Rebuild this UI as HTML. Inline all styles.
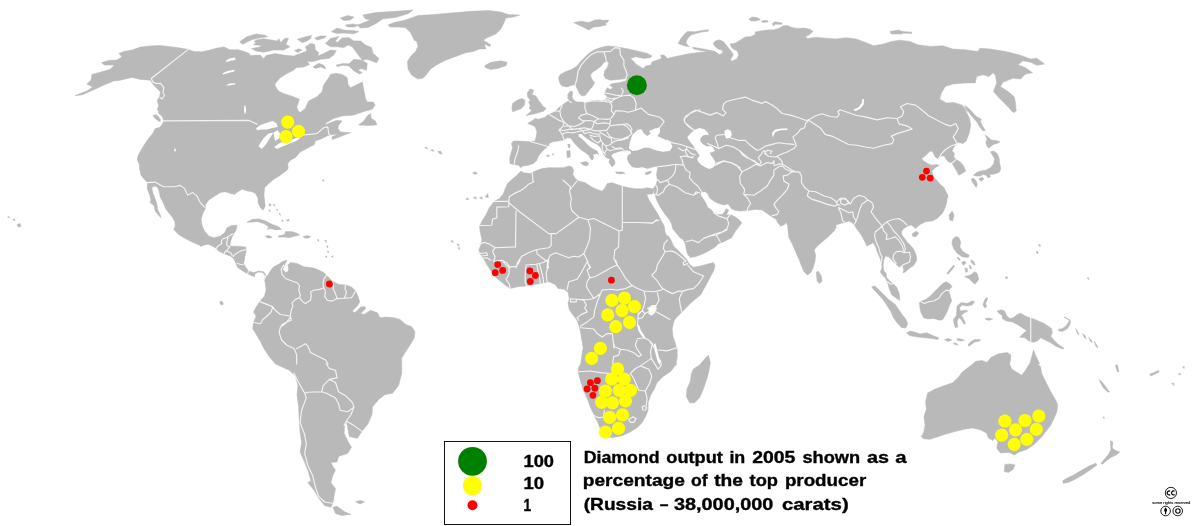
<!DOCTYPE html>
<html><head><meta charset="utf-8"><title>Diamond output 2005</title>
<style>
html,body{margin:0;padding:0;background:#fff;}
body{width:1200px;height:526px;overflow:hidden;position:relative;font-family:"Liberation Sans",sans-serif;}
svg{position:absolute;left:0;top:0;}
.legend{position:absolute;left:444.1px;top:440.6px;width:127.3px;height:84.6px;border:1.1px solid #111;box-sizing:border-box;background:#fff;}
.lbl{position:absolute;font-weight:bold;font-size:16px;color:#000;line-height:1;}
.cap{position:absolute;left:583px;top:447px;font-weight:bold;font-size:17.3px;line-height:22.5px;color:#000;white-space:nowrap;letter-spacing:0px;}
</style></head><body>
<svg width="1200" height="526" viewBox="0 0 1200 526">
<path d="M75.1,95.6 86.8,91.1 92.6,86.9 86.8,83.9 91,80.2 91.8,74.4 101.8,71.8 110.2,69.3 114.4,65.1 104.4,65.1 101.5,62.6 108.5,60.5 116.9,60.1 121.9,56.8 118.9,53.4 123.6,51.4 132,50.1 140.3,47.1 150.4,45.9 160.4,45.4 170.5,46.7 180.5,48.1 187.2,49.2 193.9,51.4 202.3,51.8 210.6,49.7 217.3,48.1 223.2,47.1 227.4,48.7 223.3,47.1 230,49.8 238.4,49.8 245.1,51.8 249.3,53.5 250.1,55.5 260.2,55.1 263.5,58.8 266,55.5 275.2,53.5 283.6,55.1 293.6,56 300.3,53.5 307,51 305.4,46.8 310.4,43.4 314.6,44.3 315.4,50.1 318.7,52.6 317.9,56 323.8,53.5 330.5,50.1 336.3,50.5 333.8,55.1 328.8,58.5 320.4,59.3 315.4,61 310.4,61.8 307,61 309.5,64.4 303.7,66.9 296.2,67.7 293.6,70.2 286.9,73.6 280.3,77.7 275.2,83.6 275.1,85.9 278.5,90.9 283.5,93.4 293.5,96.7 299.4,99.2 296.9,106.8 297.7,110.1 300.2,112.6 305.2,108.5 308.6,100.9 316.9,96.7 322,91.7 323.6,85 327,80 327.1,80.3 330.5,74.4 335.5,73.2 342.2,74.4 347.2,77.7 348,84.4 350.5,87.8 362.3,81.9 363.9,90.3 365.6,98.7 367.3,102 372.3,102 373,101.8 375.2,105.1 372.2,109.3 365.5,111 353.8,115.1 342.1,116 333.7,118.5 326.2,122.7 325.3,125.2 328.7,123.2 337,120.2 342.1,121 338.7,125.2 337.9,128.5 340.4,131.9 350.4,132.7 343.7,135.2 335.4,138.6 332,139.4 332,136.9 337.9,133.9 328.7,135.2 322,138.6 315.3,141.1 314.4,144.4 306.9,148.6 300.2,152 295.2,157.8 290.2,160.3 287.7,163.7 288.2,168 287.3,170 280.6,175 273.9,179.2 268.9,183.4 264.7,187.6 263.9,195.1 264.7,201 265.2,206 263.1,210.2 260.5,207.7 258,202.6 258,198.5 255.5,193.4 252.2,191.8 247.2,190.9 242.1,189.2 237.9,191.8 234.6,194.3 230.4,193.4 225.4,191.8 220.4,192.6 213.7,196.8 208.7,200.1 205.3,205.1 205.3,208.5 202.8,213.5 201.1,219.4 202,225.2 204.5,231.1 208.7,236.1 213.7,237.8 220.4,236.1 224.6,232.8 227.1,227.7 231.3,225.6 237.1,225.2 236.3,229.4 233.8,233.6 232.1,236.9 230.4,242 229.6,246.2 237.1,246.2 245.5,247 246.3,250.3 244.6,258 244.9,258.1 243.5,263.4 246,267.6 248.5,271 253.6,272.6 258.6,271 263.6,271.8 266.1,275.1 266.9,276.8 264.4,279.3 265.3,276 262.8,272.6 258.6,272.1 255.2,273.5 254.4,276.8 250.2,275.1 246.9,273.5 242.7,271 237.7,267.6 236,263.4 233.5,258.4 230.1,255.9 225.1,254.2 218.4,250.9 215.1,247.5 208.4,244.2 200,245.9 202,246.2 193.6,242.8 185.2,238.6 178.5,234.4 173.8,229.4 175.2,226.1 174.9,221.9 172.7,217.7 169.3,213.5 166,209.3 163.5,203.5 160.1,196.8 159.3,191.8 157.6,187.6 155.1,185.9 151.8,187.6 152.6,191.8 154.3,196.8 156.8,203.5 157.6,209.3 160.1,214.4 161,217.7 158.5,215.2 155.1,211 154.3,206 150.1,202.6 150.9,200.1 149.7,195.1 147.2,188.4 147.6,182.6 144.2,179.2 140.9,175 140,170 139.8,170.3 139.3,164.4 137.2,159.4 138.2,155.2 141,150.2 144.4,144.4 148.5,138.5 152.7,133.5 155.2,128.5 159.4,127.6 161.9,125.1 163.8,120.9 162.3,116.7 158.4,113.1 158.6,110 157.1,110.3 158.7,105.3 157.1,100.3 159.6,96.9 160.4,91.9 157.1,88.6 153.7,85.2 150.4,80.2 140.3,79.4 132,77.4 120.3,80.2 113.6,81 103.5,85.2 93.5,89.9 81.8,94.9ZM264.4,279.3 266.9,276.8 270.3,271 273.6,266.8 278.7,264.3 282,261.8 287,260.1 284.5,265.1 282.8,269.3 285.4,272.6 287.9,271.8 288.7,268.5 287.9,265.1 290.4,262.6 297.1,263.4 303.8,266.8 313.8,268.1 318.8,270.1 323.8,272.6 326.4,275.1 332.2,281 338.9,284.4 345.6,284.9 351.5,286.9 355.6,291 358.2,296.9 359.8,301.9 357.3,306.1 352.3,311.1 354.8,312.8 360.7,306.9 364.9,306.6 365.7,308.6 360.7,313.6 364,314.5 370.7,310.3 377.4,312.8 379.9,317.8 385.8,317 394.1,317.8 400,319.5 405.4,324.3 411.7,326.8 415,331.8 414.2,338.1 410.5,344.3 405.4,351.9 401.7,358.2 401.7,373.2 398.6,385.6 392.5,393.3 384.8,394.8 378.6,399.4 372.5,407.1 371.9,414.8 367.8,424.1 361.7,431.8 357.1,438.5 349.4,436.4 346.3,421 344.7,425.6 344.1,433.3 347.8,441 351.5,447.2 347.8,453.3 338.6,456.4 337,461.9 330.9,462.6 332.4,465.6 335.5,470.3 333,474.9 330.9,482.6 335.5,488.7 334,496.4 333,502.6 330.9,507.2 324.7,505.7 318.6,498 314,490.3 307.8,482.6 310.9,481 308.4,471.8 304.7,462.6 300.1,451.8 301.6,442.5 300.1,431.8 299.2,419.4 298.6,407.1 297,394.8 297.9,385.6 295.5,376.3 289.3,370.2 275.5,364 269,356.3 264,348.7 260.3,341.2 256.5,334.9 252.7,328.7 253.6,322 256.1,316.2 253.6,312 256.1,306.9 260.3,301.1 264.4,296.1 266.1,290.2 265.3,283.5ZM333,507.2 337,506.3 344.7,511.8 350.9,514.3 341.7,515.5 335.5,513.4ZM355.5,501.7 360.1,500.4 364.8,501.7 360.1,504.1ZM239.7,41.8 246.8,36.7 256,33.9 264.4,35.1 267.7,36.7 259.3,38.1 251.8,39.7 242.6,44.3ZM256,40.1 263.5,38.7 271.9,40.1 276.9,40.9 278.9,38.7 280.6,42.6 285.3,38.1 288.6,38.4 285.6,44.3 290,46.8 283.6,50.1 273.6,50.1 263.8,52.3 256,51 251.5,48.5 258.8,47.3 261.8,45.4 253.5,44.8 256,42.6 254.3,41.4ZM297.3,39.2 305.4,36.7 311.7,35.4 310.4,38.7 305.4,41.8 302,42.6ZM314.6,38.1 320.4,35.9 326.3,35.9 324.6,38.1 317.1,40.1ZM294.5,50.5 298.7,48.8 302,50.1 297.8,52.6ZM325.4,43.4 330.5,38.4 338.8,36.4 335.5,40.9 337.2,42.6 342.2,38.1 348.9,37.6 353.9,40.9 360.6,40.9 365.6,45.1 371.5,47.6 373.1,53.5 379,58.5 376.5,62.7 367.3,59.3 362.3,60.2 357.2,53.5 352.2,46.8 348,45.1 343.8,47.6 337.2,46.8 330.5,46.8ZM336.3,64.9 343,63.5 348.9,63.8 353.9,59.3 362.3,60.2 367.3,63.5 366.4,70.2 361.4,68.5 358.1,70.2 362.3,72.7 359.7,73.9 353.9,71 348.9,66 343,65.2 337.2,66.5ZM312.9,66.9 318.7,63.2 323.8,65.2 325.8,68.9 320.4,66.9 315.4,68.5ZM331.3,31.7 337.2,28 343.8,30 352.2,30.4 358.9,31.4 353.9,33.7 343.8,33.1 337.2,33.4ZM362.8,15.1 375.3,12.6 395.4,11.3 413,10 408,13.8 395.4,17.6 382.9,18.8 375.3,23.9 367.8,27.6 360.3,28.1 357.7,25.1 364,22.6 370.3,20.1 365.3,18.8ZM340.2,18.1 347.7,15.6 354,17.1 350.2,20.1 343.9,20.6ZM345.2,25.1 352.7,23.9 359,25.1 354,27.1 347.7,27.1ZM387.9,25.1 394.2,22.6 405.4,20.1 418,15.6 433.1,14.6 450.6,13.1 470.7,11.3 488.3,10.5 500.9,12.1 508.4,14.6 519.7,15.1 513.4,17.1 505.9,18.1 503.4,23.9 500.9,28.9 495.8,33.9 487,37.7 483.3,40.2 490.8,44.7 489.6,46.4 484.5,43.9 485.8,49 479.5,49 473.2,51.5 465.7,52.7 455.7,56.5 445.6,60.3 438.1,64 430.6,69 426.8,74.1 423,78.3 418,79.1 411.7,75.3 408,69 407.5,61.5 410.5,56.5 415.5,51.5 418,46.4 416.7,41.4 414.2,40.2 410.5,32.6 405.4,27.6 397.9,27.1 390.4,27.1ZM484.5,65.8 490.8,62.3 500.9,60.8 507.1,62.3 505.9,65.8 498.3,68.3 490.8,69.5 485.8,67.8ZM573.7,22.6 581.2,21.3 588.7,22.6 595,20.1 600,19.6 605,21.3 606.3,25.1 600,26.4 593.7,27.1 588.7,30.1 585,28.1 578.7,25.1ZM358.5,124.9 363.8,121 367.2,116 370.5,113.5 371.3,118.5 375.5,121 376.9,124.9 367.2,125.5ZM152.9,115.6 156.1,114.6 158.6,116.7 160.6,119.7 159.9,121.8 157.4,120.3 154.6,118.1ZM246.8,222.2 252.2,219.4 258.9,218.9 265.6,221 272.3,224.4 279,226.9 281.5,229.4 275.6,229.9 270.6,228.6 267.2,229.4 268.9,226.9 263.9,223.6 257.2,221.5 250.5,222.2ZM278.1,236.1 284.8,234.4 285.6,231.6 291.5,231.6 295.7,232.8 299.9,234.9 294.9,236.1 289,237.8 284,236.9 279,237.3ZM265.2,236.1 268.9,235.6 272.3,237.3 268.1,238.3ZM303.2,236.6 307.4,235.6 310.8,236.6 308.2,238.3 304.1,237.8ZM521,171.1 523.5,172.8 530.2,173.6 535.2,171.1 541.9,168.6 548.6,167.7 556.9,167.7 563.6,167.7 568.7,166.1 572,166.9 573.7,170.3 572.8,174.4 575.4,178.6 578.7,181.1 585.4,182.8 590.4,186.2 595.4,188.7 602.1,191.2 605.5,187 607.2,183.6 612.2,182.8 617.2,184.5 622.2,186.2 628.9,187.8 635.6,188.7 642.3,188.7 647.3,187.8 653.2,188.7 653.4,189.3 652.6,193.8 646.7,194.4 649.2,200.2 653.4,206.9 657.6,213.6 660.9,220.3 664.3,226.2 665.1,232 667.6,238 667.6,235 671,240 673.5,245.9 677.7,250.1 681.8,254.3 686,258.5 688.5,262.6 690.2,265.1 693.6,267.2 700.3,266 706.9,264.3 713.6,262.6 715,266 713.6,271 710.3,276.9 706.9,283.6 703.6,289.4 701.1,294.4 696.1,298.6 690.2,303.6 685.2,308.7 680.2,313.7 676,318 674,321.1 672.2,328.7 672.9,336.2 675.5,343.7 677.2,350 677.2,357.5 676,364.1 677,363.9 675.7,365.1 670.7,371.4 663.2,376.4 656.9,382.7 654.4,389 650.6,395.3 648.1,402.8 648.1,410.3 645.6,416.6 641.9,422.9 636.8,427.9 630.6,431.7 623,435.4 613,437.5 605.4,436.7 601.7,432.9 597.7,422 594.9,417 592.7,412 590.2,406.9 588.5,401.9 586,396.1 583.2,389.4 581,382.7 579.3,376.8 578.2,371.8 578.5,367.6 580.6,364.1 581.8,355 583.1,347.5 581.8,340 580.6,332.4 579.3,326.2 576.8,319.9 573,314.9 569.3,309.8 568,303.6 569.3,298.5 568,292.3 564.2,289.2 558,288.5 555.4,284.7 549.2,281.7 540.4,283.5 532.9,284.7 525.3,286 517.8,286.7 510.3,288.5 506.5,286 500.2,281 493.9,275.9 490.2,269.7 486.4,263.9 484.5,260 480.8,255 478.8,250 480.8,245 482,240 480.3,232.4 479.5,226.2 482,221.1 485.8,214.9 489.6,207.3 494.6,201 500.9,197.8 500,198 503.4,193.7 505.1,188.7 507.6,183.6 511.8,179.5 516.8,175.3ZM708.4,355.1 710.4,362.6 708.9,371.4 706.4,380.2 703.4,389 699.6,397.8 694.6,402.8 689.6,402.8 686.3,396.5 687,389 690.3,381.5 691.3,373.9 693.3,368.9 699.6,365.1 704.6,358.9ZM690,53.4 682.5,55.1 674.1,56.8 667.4,58.5 664.1,55.1 660.7,55.1 661.5,58.5 657.4,60.1 652.3,61.8 650.7,65.1 645.6,66 643.1,68.5 637.3,65.1 633.9,61.8 630.6,58.5 635.6,56.8 644,58.5 650.7,57.6 652,55.9 647.3,53.4 637.3,50.9 627.2,48.7 620.5,47.6 613.8,46.4 607.2,45.9 600.5,47.6 593.8,50.1 588.7,53.4 584.6,57.6 580.4,61.8 577,66 572,69.3 565.3,71.8 560.3,74.4 558.6,77.7 559.5,82.7 562,86.1 567,86.9 572,85.2 575.4,84.4 577,88.6 579.5,93.6 582.1,96.1 585.4,95.3 588.7,91.1 592.1,86.9 594.6,82.7 592.1,79.4 590.4,75.2 592.9,71.8 597.1,69.3 601.3,66 603.8,62.6 607.2,61 608.8,63.5 607.2,67.7 604.6,71 603.8,75.2 605.5,78.5 610.5,80.2 618.9,79.4 627.2,78.5 625.6,81 618.9,82.7 612.2,83.6 609.7,85.2 613,87.7 610.5,89.4 607.2,87.7 605.5,91.1 604.6,94.4 607.2,96.1 605.5,100.3 601.3,101.1 597.1,100.3 590.4,101.1 585.4,102.8 581.2,102 577,102 573.7,100.3 572,96.9 572.8,91.9 570.3,91.1 567.8,94.4 567.8,98.6 569.5,100.3 565.3,102.8 562,105.3 558.6,107.8 555.3,111.2 550.3,113.7 546.9,115.4 544.4,118 544.4,117.5 538.5,119.2 535.2,118.4 531.8,120.9 527.7,123.4 531.8,125.1 535.2,126.7 536.9,131.8 536,137.6 534.9,141 526.8,141.5 518.5,141 513.4,141 511.4,143.5 512.6,147.7 510.9,153.5 509.7,158.5 510.1,163.6 513.4,164.4 518.5,165.2 521,167.7 522.6,166.1 528.5,165.2 533.5,163.6 536.9,160.2 538.5,156 541.9,151.8 545.2,148.5 548.6,146 549.4,143.5 552.8,141.8 558.6,141 563.6,140.1 567.8,137.6 571.2,138.5 573.7,142.6 577,146 580.4,149.3 585.4,152.7 588.7,155.2 590.4,158.5 592.1,160.2 593.8,157.7 592.9,154.4 597.1,153.5 598.8,154.4 597.1,151 592.1,148.5 588.7,146 585.4,142.6 582.1,139.3 578.7,136.8 577.9,134.3 581.2,133.4 583.7,135.9 587.1,138.5 592.1,141.8 597.1,144.3 600.5,147.7 602.1,151 603.8,154.4 605.5,156.9 607.2,158 610.1,159.3 608.8,161.8 610.1,164.3 612.2,166.8 613.8,165.6 615.1,163.1 614.3,160.1 612.6,158 611.3,155.9 612.2,154.3 614.3,153 617.6,151.9 621,150.9 623.9,151 627.2,150.2 630.6,151 631.4,153.5 628.1,155.2 627.2,158.5 628.9,162.7 632.3,166.9 637.3,167.7 642.3,166.9 647.3,168.6 653.2,166.9 657.4,166.1 657.4,169.4 656.5,174.4 657.4,180.3 655.7,185.3 653.2,188.7 653.4,189.3 654.2,193.8 655.1,194.9 656.7,200.2 660.1,206.9 665.1,214.4 669.3,219.5 671.8,224.5 672.6,228.7 676,232.8 680.2,238 682.7,239.2 685.2,243.4 686,248.4 687.7,254.3 690.2,257.6 695.2,256.8 701.9,254.3 708.6,250.9 714.5,247.6 718.7,243.4 723.7,241.7 728.7,239.2 731.2,238 732.9,235.4 735.4,231.2 738.7,227 741.8,222.8 739.6,220.3 735.4,216.9 730.4,214.4 726.2,215.3 728.7,210.3 726.2,208.6 724.5,211.9 722,214.4 717,214.4 713.6,212.8 711.1,209.4 707.8,207.7 706.1,203.6 703.6,199.4 701.1,196 700.3,192.7 704.4,191.5 707.8,193.5 709.5,197.7 713.6,201 718.7,203.6 723.7,204.9 727.9,203.9 730.4,206.9 731.2,208.6 735.4,210.6 740.4,211.1 747.1,210.6 755.5,209.4 762.2,209.9 767.2,213.6 772.2,216.9 776.4,219.5 777.2,222 780.6,226.2 784.8,224.5 785.6,222 787.6,225.3 788.1,232 789,238 789.3,238 792.3,244.2 795.6,251.8 799,259.3 801.5,266 804,271.8 807.4,274.9 810.7,272.7 813.2,267.7 814.9,261.8 815.7,255.1 814.1,250.1 817.4,245.9 822.4,241.7 827.4,237.5 832.5,232.5 835,230 833.5,231 836,227.7 836,225.1 840.2,223.5 845.2,222.6 848.5,221 851.9,222.6 854.4,225.1 856.9,229.3 860.3,233.5 862.8,237.7 865.3,242.7 866.9,246.1 870.3,244.4 872.8,242.7 875.3,246.1 877,251.1 879.5,256.9 881.2,262 882,267.8 880.3,272 882.8,275.4 885.4,278 887.9,283.5 889.1,288.5 891.6,294.8 896.7,298.5 899.9,300.3 899.2,293.5 896.7,287.2 893.4,284 889.9,281 886.9,277.9 886.2,273.7 883.7,270.3 883.2,265.3 883.7,260.3 885.4,256.1 888.7,256.9 892.1,260.3 896.2,264.5 899.6,267.3 902.9,266.2 903.8,270.3 902.9,272.8 905.4,272 908.8,268.7 913.8,265.3 916.8,260.3 916.3,255.3 913.8,249.4 910.5,245.2 907.1,241.9 904.6,238.5 902.1,235.2 901.3,231.8 903.8,228.5 907.9,226 911.3,225.1 913.8,226.8 915.5,228.8 917.2,226.8 920.5,224.3 925.5,221.8 932.2,221 937.2,218.5 942.3,213.4 944.8,208.4 946.4,203.4 947.3,198.4 947.3,194.2 944.8,190 947.8,198 947.8,195.4 945.3,192 944.4,187.8 940.3,184.5 936.9,180.3 933.6,176.9 931.9,171.1 935.2,167.7 939.4,165.2 936.1,164.4 931.9,165.2 927.7,163.6 922.7,160.2 921.8,158.5 926,155.2 930.2,151 932.7,151.8 935.2,156.9 937.7,158.5 941.1,156 944.4,156 946.1,159.4 948.6,161.9 952,162.7 953.6,166.1 956.2,170.3 958.7,175.3 962,173.6 965.7,171.1 963.7,166.1 960.3,161.9 956.2,159.4 953.6,156.9 954.5,153.5 952,151 953.6,147.7 956.2,144.3 958.7,142.6 962.8,143.5 966.2,141 967.9,136.8 969.5,131.8 970.7,125.1 969.5,118.4 967,113.3 964.5,110 967.3,111.7 962.8,105.4 962.8,105.4 954,102.4 946.4,102.9 939.7,99.2 941.4,92.9 945.2,86.6 952.7,84.1 965.3,82.9 975.3,82.9 976.6,76.6 982.9,74.8 989.1,76.6 992.9,72.8 995.4,75.3 996.7,82.9 993.4,91.6 999.2,97.9 1006.7,105.4 1013,112.2 1016,110 1015.5,102.9 1014.2,96.7 1008,91.6 1000.4,86.6 1002.9,82.3 1013,78.3 1020.5,79.1 1025.5,74.1 1032.6,72.8 1025.5,67.8 1018,64.8 1023,60.8 1030.6,62.3 1036.8,65.3 1044.4,64 1036.8,58.2 1030.6,59 1020.5,55.2 1005.4,51.5 990.4,49 979.8,48.2 977.8,51.5 965.3,49.7 952.7,49 942.7,45.7 930.1,46.4 917.6,44.7 910,41.4 900,40.2 891.2,41.4 883.7,43.9 873.7,45.7 866.1,42.7 856.1,38.9 846,37.7 836,38.9 826,38.2 815.9,37.2 807.3,38.5 805.6,36.8 809.8,34.3 813.1,31.4 809.8,29.2 803.9,28.1 797.2,28.4 792.2,27.6 787.2,25.4 783,25.9 778.8,28.4 773.8,29.7 767.1,30.1 760.4,30.9 755.1,32.1 755.4,34.3 751.2,36.4 745.4,37.1 740.3,40.1 734.5,43.5 730.3,43.8 731.1,46.8 733.6,49.3 737.3,51 738.7,54.9 736.7,58.9 732.3,61 730.3,59.9 731.6,57.7 733.3,54.4 730.3,50.2 726.9,46 723.6,41.8 719.4,39.8 715.2,41 713.2,43.5 715.2,46.8 718.6,49.3 722.3,50.2 722.8,53.2 719.4,54.4 715.2,51.8 710.2,51 700.2,52.2 693.5,53.2ZM527.2,92.8 530.2,88.9 533.8,90.3 531.8,94.4 536,96.1 538.5,100.3 541,103.6 543.6,107 546.1,108.3 543.6,111.2 538.5,112.8 531.8,114.5 526,115.4 529.3,112.8 531.8,110.3 529.3,108.7 530.2,105.3 528.5,102 530.2,100.3 527.7,96.9ZM512.6,103.6 516.8,100.3 521.8,98.6 525.1,100.3 524.3,105.3 521,108.7 516.8,110.3 512.6,111.7 511.8,107.8ZM567.8,144.3 570,144.3 570,147.7 568.3,147.7ZM566.7,151 570,150.5 570.3,156.9 567.3,157.7ZM580.4,162.7 586.2,161.5 588.7,163.2 587.1,166.1 582.9,164.9ZM615.5,171.9 622.2,171.9 625.2,173.3 620.5,173.9 616.4,173.3ZM645.3,172.8 650.7,171.1 651.5,172.3 648.2,174.4 645.6,174.4ZM546.1,155.5 549.4,154.9 548.6,156.9ZM551.9,154.4 553.6,153.8 553.3,155.2ZM890,31.4 898.8,30.1 903.8,32.1 901.3,34.1 891.2,33.9ZM600,20.6 608.8,20.1 607.5,22.6 600,23.1ZM964.8,105.4 969,108.5 975.3,115.5 980.3,120.5 977.1,116.7 981.3,119.2 980.4,121.7 982.9,126.7 985.4,130.4 982.9,130.9 979.6,126.7 976.2,120.9 972.9,116.7 975.3,120.5 970.3,114.2 965.8,108.5ZM900,31.4 911.3,32.1 912.1,33.4 900,33.1ZM912.1,233.7 916.3,231.2 918.8,232.9 915.6,236.9 912.6,236.2ZM949,214.9 952.2,211.1 954,214.9 952.7,221.1 949.7,219.9ZM952.6,239.5 955.7,236.5 958.7,237.5 960.7,242 959.9,247.1 962.4,251.1 966.2,253.6 969.2,255.1 968.2,257.4 962.7,256.9 957.7,253.8 953.7,248.8 951.9,243.8ZM946.9,273.4 950.6,268.4 953.7,265.1 954.4,266.6 951.1,270.9 948.1,274.2ZM816.3,272.2 818.1,270.9 821.3,275.9 822.1,281 819.6,283.5 817.1,281ZM1036.8,364 1040.6,366.5 1041.9,374 1045.6,381.6 1050.1,390.4 1054.4,397.9 1057.7,404.2 1056.9,411.7 1053.7,419.2 1050.6,425.5 1045.6,431.8 1040.6,438.1 1034.3,444.3 1026.8,449.4 1019.3,451.9 1014.2,454.9 1009.2,452.4 1000.4,453.1 996.7,448.1 997.9,441.8 994.9,438.1 992.9,440.6 988.4,438.1 986.6,433 980.3,429.8 972.8,428 964,429.3 954,431.8 945.2,434.3 937.7,436.8 930.1,439.3 923.9,438.8 921.3,436.8 923.9,431.8 925.1,424.3 923.9,416.7 926.4,409.2 925.6,401.7 927.6,392.9 935.1,389.1 945.2,385.3 952.7,382.8 959,376.6 961.5,372.8 967.8,367.8 972.8,364 973.2,363.6 975.7,361.3 982,360.5 987,362.6 990.8,357.5 998.3,353.8 1007.1,352.5 1010.9,355 1010.4,360 1009.6,364.1 1011.7,369 1021.8,375.3 1025.5,370.3 1029.3,364 1029.7,364.1 1032.2,355 1033.5,350 1036,356.3 1039.8,364.1ZM1004.9,464.4 1010.5,463.9 1015,464.9 1013,469.4 1008.5,472.5 1004.2,471.5ZM1110.4,440.6 1112.9,442.3 1112.2,448.1 1115.9,450.6 1119.7,451.9 1116.4,454.9 1110.9,457.4 1106.4,460.7 1102.1,464.4 1100.9,463.2 1104.6,458.9 1108.4,454.4 1110.9,449.4ZM1095.8,463.2 1097.1,464.9 1090.8,469.4 1083.3,474.5 1075.7,479 1068.2,482.5 1063.2,483.3 1062.7,480.7 1067,478.2 1074.5,474.5 1082,470 1089.6,465.7ZM1099.6,379.6 1102.1,382.1 1105.9,387.1 1109.6,392.1 1107.9,392.1 1103.4,387.9 1100.4,382.8ZM678.1,43.5 680.9,38.5 685.1,33.4 687.6,31.4 695.1,31.8 701.8,30.4 708.5,29.7 707.7,31.4 701.8,32.1 696,33.4 691,35.1 687.6,38.5 685.9,42.6 687.6,45.1 689.3,46.8 683.4,45.5ZM692.6,47.2 703.5,49 715.2,51.5 710.2,51.2 700.2,50.5 693.5,48.8ZM748.7,19.2 752.1,17 757.1,17.5 760.4,19.7 755.4,20.9 751.2,20.9ZM761.3,20.9 767.1,20.4 768.5,21.7 762.9,22.6ZM772.5,23.4 774.6,21.7 782.2,23.1 781.8,24.2 775.5,24.2 773,25.9ZM985.1,135.1 987.9,136.8 991.3,140.1 996.3,140.5 1000.2,141.8 997.2,143.5 993.8,144.3 991.3,146 988.8,148.2 986.8,146 985.8,142.6 987.1,139.3ZM990.5,151.8 993.8,151 997.2,153.5 999.2,158.5 999.7,163.6 1000.8,168.6 999.7,171.9 996.3,173.6 992.1,174.4 989.6,174.4 990.5,176.9 987.9,177.8 986.3,175.3 982.9,174.4 980.4,176.1 976.2,176.1 973.4,175.3 976.2,172.8 980.4,171.1 985.4,170.3 990.5,167.7 993.8,163.6 994.6,158.5 992.5,155.2ZM971.2,179 973.7,178.3 976.2,181.1 977.4,184.5 976.2,187.3 974.6,185.3 972.4,182.3ZM979.1,178.6 982.4,177.3 983.8,179 981.3,181.1 979.6,180.3ZM1010.5,110 1013.9,112.5 1016.4,110.8 1015.6,109.2 1011.4,108.7ZM957,256.9 959,257.8 960.3,260.3 958.7,260ZM961.5,262.3 964.9,261.1 965.7,263.6 963.2,265.3ZM970.7,260 973.2,261.1 975.4,264.5 974.1,265 971.5,262.8ZM964.9,267.8 967.4,268.7 967.4,272 965.7,272.3ZM969,265.3 970.7,266.2 971.5,268.7 969.9,268.7ZM465.7,199.3 467.7,197.8 468.7,199.8ZM473.2,197.8 475.7,196.8 476.8,198.8ZM479.5,197.8 481.8,196.8 482.3,199.3ZM485.3,196.8 487.8,193.5 488.3,197.8ZM450.6,241.2 452.6,240.5 453.2,242.5ZM456.9,244.5 458.7,243.7 459.2,246.2ZM457.7,248 459.7,247.5 459.7,249.5ZM424.8,147.6 426.8,147.1 427.3,149.1ZM430.6,150.1 433.1,149.6 433.6,151.6ZM437.6,151.6 440.6,151.1 442.1,154.1 439.6,153.6ZM472.7,172.7 475.7,171.7 477.3,173.7 474.2,174.2ZM317.1,240 318.6,239.5 318.8,241.5ZM324.6,240.5 326.1,240 326.4,242.5ZM326.4,246.2 327.6,245.7 327.9,248ZM327.1,251.3 328.4,251 328.4,253ZM325.1,256.3 326.6,256 326.6,258ZM331.4,256.3 332.9,255.8 332.9,257.5ZM322.1,180.2 323.6,179.7 323.9,181.5ZM7.5,216.9 9,216.4 9.5,217.9ZM12.6,219.4 14.6,218.9 15.1,220.9ZM17.1,224.4 20.1,223.6 21.1,226.4 18.1,226.9ZM219.7,301.7 222.2,301.2 223.4,304.2 220.9,304.9ZM268.9,204.3 270.6,203.8 270.9,206 269.6,206ZM273.1,204.3 274.3,204 274.8,206.5ZM268.6,210.2 269.9,209.8 270.3,211.8ZM276.4,209.3 277.3,209 277.6,211ZM279,213.5 280,213.2 280.3,215.5ZM281.5,220.2 282.6,219.9 283,222.2ZM286.5,219.9 289,219.4 289.3,220.7 287,221ZM997.2,311 1001.4,309.8 1004.7,311 1006.4,315.2 1009.7,318.5 1013.1,317.7 1017.3,314.4 1020.6,313.2 1027.3,316.9 1034.9,319.4 1044.1,323.6 1051.6,328.6 1052.4,332.8 1050.8,336.1 1054.1,340.3 1058.3,344.5 1064.1,348.3 1062.5,349 1055.8,346.2 1050.8,342.8 1045.7,340.3 1040.7,337.8 1037.4,341.1 1033.2,342.3 1029,341.1 1024.8,337.8 1019.8,337.3 1021.5,335.3 1024,332.8 1026.5,330.6 1022.3,327.7 1017.3,324.4 1012.3,321.9 1006.4,321 1002.2,318.5 1002.2,315.5 998.9,313.2ZM957,306 961.2,302.6 967.1,303.5 972.1,301 974.6,301.5 972.1,305.1 967.1,306 962.1,305.1 959.5,307.7 960.4,311 965.4,310.2 967.9,311 963.7,313.2 961.2,315.2 963.7,319.4 965.7,323.6 963.7,323.9 961.2,319.4 958.7,317.7 957,321.9 957.9,326.9 955.4,327.7 954,323.6 953.3,319.4 956.2,316 956.7,311.8ZM919.4,302.6 921.9,301 926.1,299.3 930.3,295.9 934.4,291.8 938.6,287.6 942.8,283.4 946.2,281.7 950.3,284.2 952,286.7 948.7,290.1 950,295.1 951.7,301 949.5,305.1 947.8,310.2 945.3,315.2 942.8,319.4 939.5,320.2 933.6,318.5 927.7,318.9 923.6,317.7 921,312.7 919.9,307.7ZM871.7,286.7 875,285.9 879.2,290.1 884.2,295.1 889.2,300.1 895.1,304.3 898.5,309.3 902.6,315.2 906,319.4 907.7,323.6 906,327.7 901.8,327.7 897.6,323.6 893.4,317.7 890.9,311.8 886.7,305.1 882.6,299.3 877.5,293.4 873.3,289.2ZM906.5,332.8 910.2,331.1 915.2,332.3 920.2,333.9 926.9,332.8 932.8,335.6 938.6,337.8 937.8,339.5 931.9,338.6 925.2,337.8 920.2,337.3 914.4,336.6 909.3,335.6ZM944.5,339.5 948.7,338.6 951.7,340 947.8,341.6ZM957,338.6 961.2,339 964.6,340.3 960.4,341.1 957.4,340.3ZM967.9,345 970.4,342 974.6,339.5 980.5,339.5 979.6,341.1 974.6,342 971.3,344.5 969.1,346.2ZM953.3,342.8 957,343.6 957.9,345.3 954.5,344.5ZM983.8,301.8 985.5,298.5 987.7,297.6 986.8,301 985.5,303.5 986.8,306.8 984.6,307.7 983,305.1ZM985.1,318.5 988.8,318.2 992.7,319 989.7,320.2 986.3,319.9ZM1058.3,329.4 1062.5,328.6 1065.8,326.1 1068.3,322.7 1069.2,320.2 1064.1,317.2 1065,316.9 1070,319.9 1070.5,322.2 1069.5,325.6 1067,328.9 1062.5,331.4 1059.1,331.1ZM964.6,276.7 970.4,275 974.6,271.7 977.1,273.3 978.8,279.2 977.1,281.7 974.6,284.2 972.1,281.7 968.7,278.4ZM1005.6,277.5 1006.9,276.7 1007.2,278 1005.9,278.7ZM1115.4,365.3 1117.4,364.8 1118.9,371.5 1117.4,372ZM1149.8,374 1153.6,372.8 1158.6,370.3 1159.1,372 1154.1,374.5 1150.6,376.1ZM1171.7,383.6 1173.7,383.1 1173.7,385.6ZM1178.2,374 1180.2,373 1180.7,375ZM1182.5,367 1184.2,366.5 1184.2,368.5ZM1102.9,417.2 1104.1,416.7 1104.1,418.7ZM1075.7,328.7 1077.4,331.2 1079.2,334.4 1077.4,333.7ZM1082.5,333.7 1085,335.4 1086.2,338.7 1084.2,337.4ZM1088.7,337.4 1091.2,340 1092.5,342.5 1090.5,341.5ZM1094.3,341.2 1096.8,345 1097.8,348 1095.8,346.2ZM1005.4,277.2 1007.1,276.7 1007.4,278.7ZM1036,252.1 1037.5,251.6 1037.8,253.6ZM1038.5,245.1 1039.8,244.6 1040,246.3ZM1087,277.9 1088.7,277.7 1088.7,279.7ZM1038.6,245 1040.1,244.5 1040.3,246.5ZM1036.3,252.5 1037.8,252 1038.1,254Z" fill="#b9b9b9" fill-rule="nonzero" stroke="#b9b9b9" stroke-width="0.5" stroke-linejoin="round"/>
<path d="M648.4,307.8 651.7,305.3 655.9,305 656.7,308.7 655.1,312.8 651.7,315.7 648.4,313.7ZM629.7,142.6 632.3,135.1 637.3,130.1 641.5,129.2 644,133.4 647.3,135.9 650.7,133.4 649,130.9 654.9,128.4 659.9,127.6 659.9,132.6 657.4,135.9 664.1,139.3 670.8,142.6 672.4,146.8 669.9,151 662.4,151.8 655.7,150.2 649,147.7 644,147.7 638.1,150.2 632.3,151 628.9,148.5ZM687.2,137.2 690.9,132.9 694.6,129.8 699.6,127.9 704.5,129.2 707.6,132.2 708.8,135.3 706.4,134.7 703.3,135.3 700.8,137.8 700.2,140.9 702.6,144 707,146.5 710.7,145.8 713.2,147.7 715,150.8 711.9,152.6 710.1,152 710.7,155.1 713.2,158.2 715,161.3 715.6,164.4 713.2,167.5 709.4,169.1 705.7,167.5 701.4,165 698.3,161.9 697.1,158.8 699.6,155.7 697.7,152.6 695.2,149.6 693.4,145.8 690.9,142.8 689,140.3ZM255.9,128.5 260,125.2 266.7,122.7 272.6,121 276.8,123.5 277.6,126.9 273.4,127.7 266.7,129.4 261.7,129.4 257.5,130.2ZM258.4,146.1 263.4,138.6 268.4,133.6 273.4,132.7 270.1,137.7 265.9,144.4 261.7,149ZM273.4,132.7 277.6,130.2 280.1,133.6 279.3,138.6 275.1,141.1 274.3,136.9ZM274.3,146.9 280.1,142.8 288.5,141.1 296.9,137.7 300.2,138.6 295.2,141.6 283.5,146.1 276.8,149ZM225.7,61 229,58.5 234.9,57.6 235.7,59.8 230.7,61 226.5,62.1ZM222.3,73.5 227.4,71 234.9,69.8 234.1,71.5 227.4,73.2 223.2,74.5ZM225.7,85.2 229.9,83.6 235.7,83.2 234.9,84.6 229,85.6ZM244.1,106.2 245.4,105.3 246.1,110.3 245.1,114.5 244.1,112ZM174,148.9 175.3,148.5 176.2,151 174.5,151.5ZM637.4,326.1 639,324.4 640.7,330.3 644.1,335.3 645.7,338.7 644.1,338.7 640.7,334.5 638.2,330.3ZM653.8,344.2 655.5,343.3 657.2,350 658.8,356.7 660.5,361.8 659.7,365.1 658,362.6 656.3,356.7 654.6,350ZM724.3,131 727.7,128.9 731,131 731.8,135.2 729.3,138.2 726,138.6 724.8,135.2ZM772.8,137.7 772,132.7 775.4,129.4 782.1,128.5 787.9,128.5 787.1,129.9 780.4,130.2 775.4,131.9 773.7,135.2ZM853.2,109.8 858.2,107.6 861.5,103.4 862.4,98.7 864.1,99.2 863.7,104.3 860.7,108.5 855.7,111Z" fill="#ffffff"/>
<path d="M693.4,129.8 688.4,125.5 684.7,122.4 684.1,118.7 687.2,116.2 690.9,112.5 695.8,110M188,49.6 151.2,78.5 152.9,81.9 156.2,83.6 160.4,83.2 163.8,87.7 162.9,92.8 164.6,95.3 162.1,99 160.4,97.8M163.6,120.8 249,120.4 257.3,124.3M300.2,135.2 316.9,133.6 323.6,127.7 327.8,126.9 328.7,133.6 330.3,135.2M147.6,182.6 155.1,182.1 163.5,186.7 174.4,186.7 180.2,185.4 184.4,188.4 187.7,195.1 192.8,192.6 196.9,195.9 200.3,202.6 204.5,207.2M215.9,248.8 218,245.9 221.8,243.8 221.3,241.3 223,238.8 226.8,237.6 232.6,233.8M228,237.4 226.9,241.7 226.6,244.9 228.5,246.6 229.7,246.9 227.6,249.7 225.1,251.8 224.3,253.9M226.8,250.9 229.3,252.2 231.4,253.5 232.2,255.5M233.1,256.6 235.1,254.3 238.5,252.2 241.8,250.5 246,249.9M237.2,263.5 240.2,264.3 243.5,265M248.5,271 247.7,273.5M264.4,279.3 266.1,275.1M283.7,265.1 281.2,269.3 282,274.3 285.4,278.5 292.1,281 297.1,282.7 299.6,286 298.7,290.2 300.4,295.2 299.6,297.7M299.6,297.7 302.1,301.1 305.4,303.6 310.5,300.3 311.3,295.2 310.5,291.9 313.8,290.2 319.7,289.4 323.8,287.7M323.8,287.7 323,283.5 323.8,279.3 326.4,275.1M323.8,287.7 325.5,291.9 324.7,296.1 327.2,300.3 332.2,301.1 337.2,298.6M332.2,281 333.9,285.2 333.1,288.5 334.7,291.9 336.4,296.1 337.2,298.6M345.6,284.9 344.8,288.5 346.4,291.9 345.3,296.1 343.9,298.2M337.2,298.6 343.9,298.2 351.5,297.7 355.6,291M299.6,297.7 295.4,299.4 292.1,302.8 292.9,306.1 291.2,310.3 290.4,315.3 291.2,320.3 287,322 282,324.5 280.3,328M260.3,301.9 266.9,304.4 272.8,306.9M272.8,306.9 271.1,312 266.9,316.2 262.8,319.5 260.3,323.7 255.2,322.8 252.7,322M272.8,306.9 275.3,310.3 280.3,314.5 285.4,315.3 290.4,316.2M290.4,317.4 285.4,323.6 280.3,327.4 279.1,332.4 281.6,340 286.6,345 294.2,348.7 296.7,355 296.7,364.1M296.7,348.7 305.4,343.7 308,346.2 310.5,352.5 318,356.3 325.5,360 328,364.1M293.9,373.2 298.6,382.5 304.7,393.3M326.3,364 329.4,368.6 335.5,370.2 337,377.9 329.4,379.4 323.2,385.6 321.7,391.7 307.8,392.3 304.7,393.3M329.4,379.4 335.5,382.5 338.6,391.7 346.3,396.3 352.4,402.5 354,407.1 347.8,411.7 340.1,410.2 338.6,404 335.5,397.9 326.3,393.3 321.7,391.7M304.7,393.3 306.3,397.9 301.6,410.2 300.1,422.5 304.7,434.8 306.3,444.1 304.7,453.3 307.8,465.6 312.4,474.9 315.5,487.2 318.6,496.4 324.7,502 332.4,503.2M354,407.1 350.9,414.8 346.3,421 344.1,425.6M346.3,421 354,425.6 361.7,431.1M533.6,181.7 528.6,184.2 525.2,187.5 520.2,190.9 514.4,193.4 509.3,196.7 508.8,201.8M493.4,201.4 508.8,201.4 508.8,206.8 496.8,207.1 496.8,217.7 492.6,219.3 491.8,225.2 479.2,225.5M508.8,202.6 518.5,211 548.7,233.6 556.2,233.6 578.8,217.2M516,211 515.5,246.9 495.1,247.8M562.9,180 570.4,186.7 569.6,191.7 571.3,198.4 570.4,205.1 572.1,211 578.8,217.2 588,219.8 593.8,218.5 619,231 622.3,230.2 622.3,185.9M570.4,189.2 573.8,185 577.1,180.8M622.3,222.2 652.4,222.7 655.8,221 659.1,220.2M588,219.8 590.5,228.5 589.7,238.6 587.2,246.1 583.8,253.6 578.8,257 573.8,256.2 568.7,257.8 562.1,255.3 555.4,252.8 550.3,255.3 547.8,260.3 547,268M619,231 618.6,246.9 614.8,250.3 613.9,258.7 617.3,265.4 619,268M551.2,233.6 551.2,245.3 548.7,247.8 536.9,249.5 528.6,252.8 521.9,256.2 517.7,262 516,268M536.9,249.5 536.9,253.6 542,257.8 547,261.2 548.7,268M479.2,244.4 484.2,242.3 490.1,244.4 495.1,247.8 492.6,251.1 495.1,257 493.4,261.2 501.8,260.3 506.8,262.8 510.2,268M478.4,253.6 486.7,252.8 487.6,255.3 479.2,256.2M480,258.7 486.7,257.8 490.9,260.3M583.8,253.6 587.2,260.3 589.7,268M501.8,260 506,265 508.8,266.7 516,266.4 518.5,263.3 520.2,260M508.8,266.7 509.3,272.6 507.7,276.7 506,279.2 509.3,284.3 510.2,288.8M526.1,265 525.2,273.4 525.2,281.8 526.9,286.4M526.1,265 536.1,264.2 543.6,262.5 547,260M536.9,264.2 537.8,270 539.5,276.7 540.3,283.4M539.5,264.2 541.1,270 542.8,276.7 543.6,282.6M548.7,260 547.8,266.7 546.2,273.4 547,281.8M567.1,289.8 568.7,281.8 577.1,279.2 581.3,272.6 587.2,261.7 590.5,267.5 587.2,270 589.7,277.6 594.7,276.7 603.9,271.7 611.4,267.5 617.3,265 620.6,270 625.6,278.4 631.5,285.1 637.4,288.5 644.1,291 654.1,291.8 660.8,290.1 662.5,289.3M589.7,277.6 587.2,281.8 586.3,285.9 588.8,291 591.3,294.3 593.8,298.5M570.4,298.8 577.1,299.3 587.2,299.8 593.8,298.5 600.5,293.5 602.2,290.1 610.6,289.3 617.3,290.1 625.6,288.5 631.5,285.9M570.4,298.8 570.4,301.8 576.3,301.8 576.4,299.3M615.6,260 617.3,265M577.1,299.3 583.8,300.2 586.3,305.2 584.6,307.7 587.2,311.9 581.3,314.4 577.1,317.7 578.8,320.3M600.5,293.5 597.2,301.8 594.7,310.2 593.8,316.9 587.2,321.9 580.5,326.1M580.5,327.8 593.8,329 597.2,333.6 602.2,337 607.2,333.6 612.3,333.6 613.1,340.3 613.9,348M644.1,291.8 645.7,298.5 644.1,305.2 642.4,310.2 638.2,315.2 637.4,326.1M657.4,292.6 659.1,300.2 655.8,306 647.4,308.5M638.2,313.6 642.4,311 644.9,313.6 642.4,317.7 639,318.6M644.9,313.6 647.7,312.2M656.6,311.9 670,319.4M637.4,338.7 644.1,337.8 649.1,340.3 652.4,343.7 654.1,348M578.5,371.8 590.2,371 600.3,372.6 610.3,373.5M612.8,340 614.5,346.7 620.3,349.2 618.7,355.1 613.6,356.7 612.8,361.8 613.6,366.8M620.3,349.2 627,350 633.7,352.6 638.7,356.7 641.3,355.1 637.1,349.2 635.4,345 637.1,340M630.4,373.5 635.4,368.5 640.4,365.9 648.8,360.1 651.3,358.4 650.5,351.7 652.1,345 648.8,340M651.3,358.4 655.5,365.1 658,369.3 661.3,365.1 660.5,360.1M658,350 667.2,350.9 677.2,347.5M640.4,365.9 648.8,369.3 651.8,376 649.6,383.5 645.4,391 638.7,390.2 633.7,378.5 630.4,373.5M645.4,391 647.1,398.6 646.3,405.3M642.1,406.9 644.6,405.6 646.8,407.8 645.4,410.3 642.9,410 642.1,406.9M628.7,419.5 632.9,416.7 636.2,418.7 633.7,422.3 630.4,422.3 628.7,419.5M593.6,415.3 598.6,417.8 603.6,417 604.4,410.3M667.6,240 664.3,243.4 663.4,248.4 665.1,251.8 671,250.9 676,252.6 681,256.8 686,261 683.2,262.6 683.8,265.1 687.7,263.5M665.1,251.8 661.8,257.6 657.6,264.3 655.9,271 651.7,275.2 656.7,280.2 661.8,287.7 666.8,291.1 672.6,293.6 678.5,291.1 682.7,291.1 688.5,289.4 693.6,288.6 698.6,283.6 703.6,276 693.6,271.8 687.7,265.1M682.7,291.1 679.3,298.6 680.2,305.3 681.8,312M686,241.7 691.9,240 698.6,242.6 703.6,238.4 710.3,235.9 716.2,235 720.3,241.7M716.2,235 727,230M562.1,105.1 559.9,110.8 560.7,116.5 564.2,122.2M549.3,114.4 552.8,116.5 558.5,120.1 564.2,122.2 562.8,126.5 559.2,130.1 562.1,134.3 564.2,140.1M551.4,112.2 555.7,110.8 559.9,111.5M584.9,102.3 584.9,108 587,113.7 581.3,115.1 578.5,117.9 581.3,120.1 584.2,121.5 579.9,124.4 574.2,126.5 568.5,125.8 564.2,122.2M584.9,102.3 594.2,100.8 604.2,101.5 609.9,102.3 612,105.8 611.3,110.8 614.1,114.4 610.6,118.7 607,119.4 598.5,118.7 592.7,115.8 587,113.7M578.5,117.9 582.8,120.8 589.9,120.5 594.2,121.5 598.5,118.7M568.5,125.8 572.8,129.4 578.5,128.6 584.2,127.9 591.3,129.4 593.5,125.1 594.2,121.5M564.2,126.5 568.5,125.8M559.2,129.4 563.5,130.8 568.5,129.4 572.8,129.4M594.2,121.5 597,123.7 604.2,122.9 609.9,123.7 610.6,120.1M591.3,129.4 594.2,130.8 601.3,130.8 607,130.1 609.9,125.8 609.9,123.7M578.5,128.6 582.8,130.8 587,130.1 591.3,129.4M582.8,130.8 584.2,133.6 589.9,132.2 592.7,133.6 599.9,134.3M589.9,135.1 594.2,136.5 599.9,135.8 600.6,140.1 598.5,142.9 594.2,140.8 590.6,137.2M599.9,132.2 607,136.5 611.3,138.6 612,142.9 609.9,145 605.6,145.8 602.7,142.9 600.6,140.1M609.9,125.8 615.6,125.1 622.7,124.4 627,126.5 630.5,130.8 632,133.6 628.4,136.5 621.3,139.3 614.1,138.6 609.9,136.5 607,132.2M622.7,124.4 627,123.7 629.8,125.8 632,129.4 630.5,132.2M612,142.9 615.6,140.8 621.3,140.1 628.4,137.9M612,146.5 615.6,148.6 621.3,147.9 624.1,150.7 628.4,151.5M605.6,145.8 607,149.3 609.9,150.7 615.6,149.3 621.3,148.6M602.7,142.9 602,147.9 603.4,152.2 605.6,155M607,149.3 604.2,153.6M614.1,114.4 615.6,110.8 621.3,110.8 628.4,112.2 635.5,110.1 641.2,108 644.1,110.8 648.4,114.4 654.1,115.8 659.8,117.2 664.1,121.5 661.2,125.8 658.4,128.6M609.9,102.3 614.1,99.4 619.8,96.6 623.4,95.8 629.8,95.1 634.1,98 636.2,103.7 635.5,109.4M604.2,93 609.9,93.7 615.6,95.1 621.3,95.8M605.6,97.3 611.3,98.7 617,98 621.3,95.8 623.4,90.9 621.3,88M604.2,101.5 607.7,99.4 612,102.3M666.9,140.1 672.6,142.9 679.7,144.3 686.9,146.5 692.6,148.6 699.7,150.7M678.3,147.9 682.6,150.7 686.9,149.3 691.2,153.6 695.4,155M686.9,146.5 685.4,152.2 688.3,156.5 692.6,157.9M700,110.1 694,110.8 689.7,113.7 685.4,116.5 684,120.8 686.9,125.1 691.2,128.6 694,130.1M569.2,101.5 571.4,102.3M530,141.5 540,144.3 547.8,146.5M562.1,134.3 567.1,132.2 572.8,132.9 578.5,131.5 582.8,130.8M518.8,145.5 517.6,151.8 515.1,158.5 514.3,163.9M575.4,84.4 577,78.5 577.9,71.8 581.2,65.1 585.4,60.1 590.4,55.1 597.1,51.8 603.8,51.8 610.5,51.4 614.7,47.6 618.9,48.1M603.8,51.8 605.5,56.8 606.3,61M619.7,48.1 620.5,55.1 623.9,60.1 623.9,66 626.4,71.8 627.2,75.2 625.6,78.5M690,113.5 696.7,110.5 703.4,112.6 710.1,115.1 716.8,112.6 723.5,116 726,112.6 722.6,109.3 723.5,104.3 726,101.8 735.2,99.2 745.2,97.1 751.9,100.1 762,103.4 765.3,101.4 772,105.1 777,108.5 782.1,113.5 790.4,115.1 798.8,117.7 805.5,120.2 808.8,120.2M808.8,120.2 805.5,123.5 804.6,127.7 800.5,129.4 797.1,133.6 792.9,136.9 794.6,141.1 796.3,145.3 793.8,148.6 787.1,152 780.4,154.5 775.4,157 768.7,156.2 764.5,153.6 767,150.3 772,151.1 770.3,153.6M716.8,135.2 724.3,134.4M730.2,137.7 738.5,140.3 745.2,140.3 750.3,145.3 756.9,150.3 760.3,149.5 765.3,146.1 772,144.4 778.7,142.8 785.4,143.6 793.8,144.4M716.8,135.2 715.1,137.7 717.6,144.4 718.5,148.6 726,145.3 733.5,146.9 740.2,151.1 746.9,157 753.6,161.2 758.6,163.7M718.5,148.6 711.8,145.3 707.6,143.6M715.1,165.4 723.5,161.2 731.8,162.8 736.9,165.4 740.2,168M808.4,119.9 815.1,116 821.8,113.8 830.2,116.5 836.9,117.2 839.4,114.4 837.7,111.8 840.2,109.8 848.6,112.7 856.9,115.5 865.3,116.9 877,119.9 887.1,117.7 897.1,118.5M808.4,119.9 815.1,124.4 820.1,127.7 825.1,134.4 831.8,136.1 840.2,140.3 848.6,144.5 856.9,145.3 865.3,147 873.7,148.3 883.7,145.3 892.1,143.6 893.8,139.5 891.3,136.1 897.1,133.6 905.5,131.1 912.2,128.9 907.2,126.1 898.8,123.6 897.1,118.5M897.1,118.5 902.1,116 903.8,111.8 900.5,106.8 907.2,103.5 915.5,105.1 922.2,110.2 928.9,116 937.3,120.2 945.6,124.4 950.7,126.1 955.7,123.6 958.2,128.6 955.7,133.6 953.2,136.9 955.7,141.1 957.4,143.6 950.7,146.2 945.6,149.5 941.5,153.7 939,158M952,162.7 954.5,161 956.2,159.4M657.6,166.7 665.1,165.9 676,164.2 683.5,165.1 681.8,159.2 680.2,156.7 685.2,155.9 690.2,157.5 693.6,156.7M676,164.2 675.1,171.8 672.6,175.9 667.6,180.1 660.1,182.6 657.6,179.3M655.9,185.1 657.6,188.5 656.7,193.5 655.1,194.4M667.6,180.1 669.3,184.3 665.1,187.7 663.4,191.8 658.4,195.2 655.4,194.4M669.3,184.3 676.8,186.8 685.2,192.7 693.6,195.2 697.7,192.7M694.4,194.4 696.1,191.8 699.4,192.7M683.5,165.1 686,170.1 690.2,172.6 689.4,177.6 693.6,182.6 697.7,186 701.1,191 701.9,192.7M716.2,163.4 723.7,160.9 730.4,162.6 737.1,165.9 742.1,171.8 739.6,176.8 740.4,183.5 744.6,189.3 743.8,194.4 747.9,198.5 750.5,203.6 747.9,207.7 747.1,210.6M742.1,171.8 750.5,167.6 755.5,164.2 760.5,165.9 767.2,162.6 772.2,163.4 773.9,160.9M743.8,194.4 753.8,195.2 760.5,191 767.2,186 770.5,180.1 773.9,175.1 773.9,170.1 778.9,166.7 782.3,165.9M782.3,165.9 785.6,169.2 792.3,171.8 787.3,175.1 783.1,175.9 783.9,181 789,184.3 787.3,189.3 782.3,195.2 777.2,200.2 773.9,204.4 776.4,208.6 778.9,211.1 777.2,214.4 772.2,215.6M792.3,171.8 799,171.8 801.5,175.9 801.5,182.6 804.9,187.7 809,191 815.7,191.8 824.1,196 830.8,197.7 836.7,201.9 837.5,204.4 835,206.1 827.4,204.4 820.8,201.9 812.4,199.4 807.4,196 808.2,192.7 809,191M837.5,204.4 840,205.2M713.6,212.8 718.7,216.1 727,218.6 730.4,214.4M727,218.6 728.7,223.6 727,228.7 722,232 715.3,233.7 706.9,237 705.3,238M640,222.8 652.6,223.3 656.7,219.5M838.5,207.6 841,213.4 842.7,221 845.2,222.6M838.5,207.6 843.5,210.1 848.5,212.6 852.7,211.8 853.6,216.8 856.1,221 854.4,224.3M836,202.6 840.2,198.4 845.2,198.4 848.5,201.7 850.2,204.2 853.6,198.4 858.6,195.4 864.4,196.7 867.8,200M840.2,200 842.7,198.4 846.9,200 848.5,203.4 844.4,205.1 841,203.4 840.2,200M867.8,200 861.9,204.2 859.4,210.1 857.7,216.8 856.1,221M867.8,200 872,202.6 873.6,206.7 871.1,211.8 874.5,216.8 878.7,221.8 882,226M882,226 878.7,229.3 875.3,231.8 874.5,236 876.2,241.9 878.7,247.7 880.3,253.6 882,256.9 881.2,263.6M882,226 887,221.8 888.7,221 893.7,219.3 898.7,218.5 903.8,221.8 907.1,225.1M887,221.8 890.4,226 893.7,231 897.1,234.4 900.4,238.5 903.8,243.6 905.4,248.6 904.6,251.9M882,226 883.7,231 887,234.4 886.2,239.4 890.4,238.5 895.4,236.9 898.7,240.2 902.1,245.2 903.8,251.1M893.7,254.4 896.2,251.9 900.4,251.1 903.8,252.8 909.6,252.3 910.5,256.9 909.6,262 903.8,264.5 900.4,267M893.7,254.4 892.9,258.6 896.2,263.6M532.2,172.2 533,181M1030.7,317.7 1030.7,342M921,301.8 924.4,303.5 928.6,301.8 933.6,301 938.6,298.5 942,293.4 946.2,290.1 949.5,290.9M887.6,281.7 890.9,284.2 893.4,283.4M777.3,156.7 780.3,159.3 782.2,161.6 782.6,164.3 779.5,163.9 776.5,165 774.2,165.4 773.9,160.9M756.3,163.1 759.4,165 761.3,162.4 759.8,160.1 758.3,157.4 760.5,155.2 762.8,151.7 764.3,150.6 765.9,154M782.6,164.3 787.1,166.9 791.7,170 794.8,171.5 800,172.3M740,151.3 742.3,154.8 746.1,157.4 750.6,159.3 755.2,161.2 756.3,163.1" fill="none" stroke="#f4f4f4" stroke-width="1.15" stroke-linejoin="round" stroke-linecap="round"/>
<circle cx="287.7" cy="122.2" r="6.6" fill="#ffff00"/><circle cx="298.5" cy="131.4" r="6.6" fill="#ffff00"/><circle cx="286" cy="136.6" r="6.6" fill="#ffff00"/><circle cx="611.9" cy="300.3" r="6.6" fill="#ffff00"/><circle cx="624.5" cy="298" r="6.6" fill="#ffff00"/><circle cx="634.5" cy="306.6" r="6.6" fill="#ffff00"/><circle cx="622" cy="310.6" r="6.6" fill="#ffff00"/><circle cx="607.7" cy="314.9" r="6.6" fill="#ffff00"/><circle cx="629.5" cy="322.4" r="6.6" fill="#ffff00"/><circle cx="615.7" cy="326.7" r="6.6" fill="#ffff00"/><circle cx="600.4" cy="348.3" r="6.6" fill="#ffff00"/><circle cx="591.6" cy="358.4" r="6.6" fill="#ffff00"/><circle cx="617.5" cy="368.9" r="6.6" fill="#ffff00"/><circle cx="611.7" cy="379" r="6.6" fill="#ffff00"/><circle cx="624.3" cy="379" r="6.6" fill="#ffff00"/><circle cx="605.4" cy="391" r="6.6" fill="#ffff00"/><circle cx="619.3" cy="390.3" r="6.6" fill="#ffff00"/><circle cx="630.6" cy="390.3" r="6.6" fill="#ffff00"/><circle cx="601.7" cy="402.3" r="6.6" fill="#ffff00"/><circle cx="612.5" cy="402.8" r="6.6" fill="#ffff00"/><circle cx="625.5" cy="400.8" r="6.6" fill="#ffff00"/><circle cx="609.7" cy="417.4" r="6.6" fill="#ffff00"/><circle cx="622.5" cy="414.9" r="6.6" fill="#ffff00"/><circle cx="605.4" cy="432.2" r="6.6" fill="#ffff00"/><circle cx="618.5" cy="428.4" r="6.6" fill="#ffff00"/><circle cx="1004.9" cy="421.2" r="6.6" fill="#ffff00"/><circle cx="1025" cy="420.5" r="6.6" fill="#ffff00"/><circle cx="1038.8" cy="416" r="6.6" fill="#ffff00"/><circle cx="1015.5" cy="429.8" r="6.6" fill="#ffff00"/><circle cx="1036.3" cy="429.3" r="6.6" fill="#ffff00"/><circle cx="1001.7" cy="435.1" r="6.6" fill="#ffff00"/><circle cx="1026.8" cy="439.3" r="6.6" fill="#ffff00"/><circle cx="1014.2" cy="444.3" r="6.6" fill="#ffff00"/><circle cx="926.5" cy="171.1" r="3.4" fill="#ff0000"/><circle cx="922.3" cy="177.3" r="3.4" fill="#ff0000"/><circle cx="930.2" cy="178.1" r="3.4" fill="#ff0000"/><circle cx="329.4" cy="284" r="3.4" fill="#ff0000"/><circle cx="497.7" cy="264.6" r="3.4" fill="#ff0000"/><circle cx="502.7" cy="270.4" r="3.4" fill="#ff0000"/><circle cx="495.2" cy="272.7" r="3.4" fill="#ff0000"/><circle cx="529.8" cy="270.9" r="3.4" fill="#ff0000"/><circle cx="535.4" cy="275.4" r="3.4" fill="#ff0000"/><circle cx="530.3" cy="281.5" r="3.4" fill="#ff0000"/><circle cx="611.4" cy="280.2" r="3.4" fill="#ff0000"/><circle cx="597.4" cy="380.7" r="3.4" fill="#ff0000"/><circle cx="590.4" cy="382.7" r="3.4" fill="#ff0000"/><circle cx="587.1" cy="389" r="3.4" fill="#ff0000"/><circle cx="594.9" cy="388.2" r="3.4" fill="#ff0000"/><circle cx="592.9" cy="395.3" r="3.4" fill="#ff0000"/><circle cx="636.9" cy="85.2" r="10" fill="#008000"/>
</svg>

<div class="legend"></div>
<svg width="1200" height="526" viewBox="0 0 1200 526" style="pointer-events:none;will-change:transform;opacity:0.999">
<circle cx="472.5" cy="461.3" r="14.4" fill="#008000"/>
<circle cx="472.5" cy="485.6" r="9.7" fill="#ffff00"/>
<circle cx="472.5" cy="505.3" r="5" fill="#ff0000"/>
<g fill="none" stroke="#000" stroke-width="0.9">
<circle cx="1170.9" cy="492.9" r="5.6"/>
<circle cx="1165.6" cy="511" r="4.8"/>
<circle cx="1177.7" cy="511" r="4.8"/>
<circle cx="1177.9" cy="511" r="2.2" stroke-width="1.1"/>
</g>
<g fill="none" stroke="#000" stroke-width="1.25">
<path d="M1170.2,491.2a2,2 0 1 0 0,3.4M1174.6,491.2a2,2 0 1 0 0,3.4"/>
</g>
<path d="M1165.6,507.2l1.3,2v2.4l-0.7,0v2.6h-1.2v-2.6l-0.7,0v-2.4z" fill="#000"/>
<text x="1171.3" y="503.6" font-family="Liberation Sans, sans-serif" font-size="4.1" text-anchor="middle" fill="#000" stroke="#000" stroke-width="0.12">some rights reserved</text>
<g font-family="Liberation Sans, sans-serif" font-weight="bold" fill="#000" stroke="#000" stroke-width="0.35">
<text x="583.7" y="462.8" textLength="75.9" lengthAdjust="spacingAndGlyphs" font-size="16.4">Diamond</text>
<text x="666.3" y="462.8" textLength="56.6" lengthAdjust="spacingAndGlyphs" font-size="16.4">output</text>
<text x="729.4" y="462.8" textLength="15.9" lengthAdjust="spacingAndGlyphs" font-size="16.4">in</text>
<text x="752.2" y="462.8" textLength="43.2" lengthAdjust="spacingAndGlyphs" font-size="16.4">2005</text>
<text x="802.4" y="462.8" textLength="57.7" lengthAdjust="spacingAndGlyphs" font-size="16.4">shown</text>
<text x="867.0" y="462.8" textLength="22.0" lengthAdjust="spacingAndGlyphs" font-size="16.4">as</text>
<text x="895.2" y="462.8" textLength="11.3" lengthAdjust="spacingAndGlyphs" font-size="16.4">a</text>
<text x="582.7" y="485.6" textLength="102.2" lengthAdjust="spacingAndGlyphs" font-size="16.4">percentage</text>
<text x="691.1" y="485.6" textLength="16.6" lengthAdjust="spacingAndGlyphs" font-size="16.4">of</text>
<text x="714.2" y="485.6" textLength="28.8" lengthAdjust="spacingAndGlyphs" font-size="16.4">the</text>
<text x="749.6" y="485.6" textLength="28.4" lengthAdjust="spacingAndGlyphs" font-size="16.4">top</text>
<text x="784.9" y="485.6" textLength="81.3" lengthAdjust="spacingAndGlyphs" font-size="16.4">producer</text>
<text x="583.7" y="509.6" textLength="69.2" lengthAdjust="spacingAndGlyphs" font-size="16.4">(Russia</text>
<text x="659.8" y="509.6" textLength="8.7" lengthAdjust="spacingAndGlyphs" font-size="16.4">–</text>
<text x="673.9" y="509.6" textLength="99.5" lengthAdjust="spacingAndGlyphs" font-size="16.4">38,000,000</text>
<text x="781.9" y="509.6" textLength="66.8" lengthAdjust="spacingAndGlyphs" font-size="16.4">carats)</text>
<text x="523.5" y="466.8" textLength="30.5" lengthAdjust="spacingAndGlyphs" font-size="15.8">100</text>
<text x="523.5" y="489.1" textLength="20.7" lengthAdjust="spacingAndGlyphs" font-size="15.8">10</text>
<text x="523.5" y="510.7" textLength="7.6" lengthAdjust="spacingAndGlyphs" font-size="15.8">1</text>
</g>
</svg>

</body></html>
